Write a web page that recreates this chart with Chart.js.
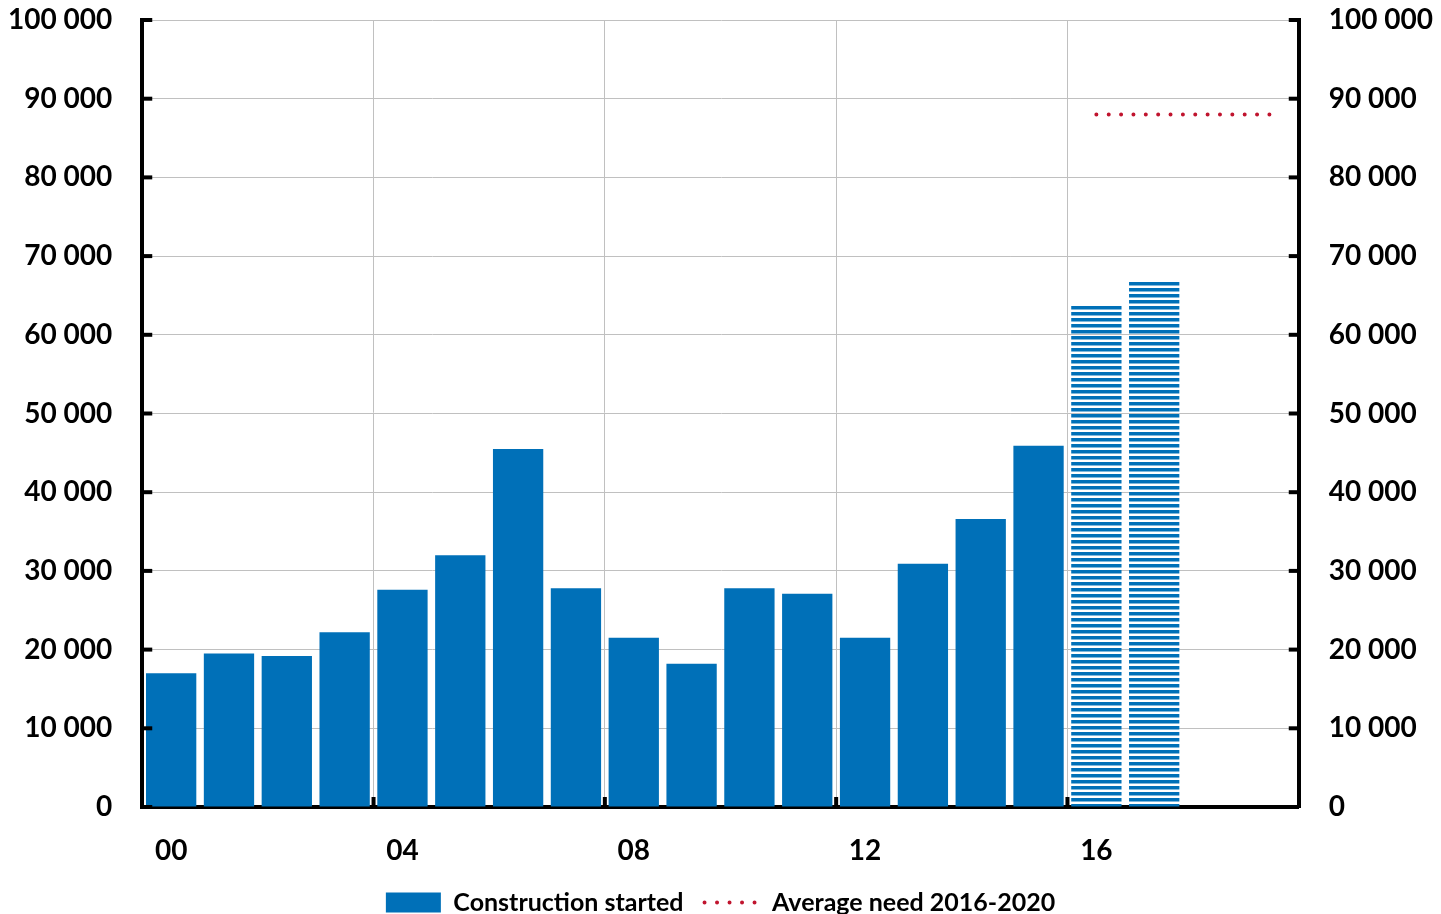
<!DOCTYPE html>
<html>
<head>
<meta charset="utf-8">
<script src="https://cdn.jsdelivr.net/npm/chart.js@4.4.1/dist/chart.umd.min.js"></script>
<style>
  body { margin: 0; background: #fff; }
  #wrap { width: 1441px; height: 914px; }
</style>
</head>
<body>
<div id="wrap"><canvas id="chart"></canvas></div>
<script>
// years 2000-2019, shown as two digits
var years = ['00', '01', '02', '03', '04', '05', '06', '07', '08', '09',
             '10', '11', '12', '13', '14', '15', '16', '17', '18', '19'];
var shownYears = ['00', '04', '08', '12', '16'];
var started = [17000, 19500, 19200, 22200, 27600, 32000, 45500, 27800, 21500, 18200,
               27800, 27100, 21500, 30900, 36600, 45900, 63900, 66900, null, null];
var need = [null, null, null, null, null, null, null, null, null, null,
            null, null, null, null, null, null, 88000, 88000, 88000, 88000];
var firstForecast = 16;

var blue = '#0070b8';
var red = '#c0142e';

Chart.defaults.font.family = 'Lato, Calibri, sans-serif';
Chart.defaults.font.weight = 'bold';
Chart.defaults.color = '#000';

function stripes() {
    var p = document.createElement('canvas');
    p.width = 6;
    p.height = 6;
    var g = p.getContext('2d');
    g.fillStyle = blue;
    g.fillRect(0, 0, 6, 3.5);
    return g.createPattern(p, 'repeat');
}
var striped = stripes();

function fmt(v) {
    return String(v).replace(/\B(?=(\d{3})+(?!\d))/g, ' ');
}

// short black ticks pointing into the plot
var tickMarks = {
    id: 'tickMarks',
    afterDraw: function (chart) {
        var c = chart.ctx, a = chart.chartArea;
        var y = chart.scales.y, x = chart.scales.x;
        c.save();
        c.strokeStyle = '#000';
        c.lineWidth = 4;
        y.ticks.forEach(function (t) {
            var py = y.getPixelForValue(t.value);
            c.beginPath(); c.moveTo(a.left, py); c.lineTo(a.left + 10, py); c.stroke();
            c.beginPath(); c.moveTo(a.right, py); c.lineTo(a.right - 10, py); c.stroke();
        });
        for (var i = 4; i < years.length; i += 4) {
            var px = (x.getPixelForValue(i - 1) + x.getPixelForValue(i)) / 2;
            c.beginPath(); c.moveTo(px, a.bottom); c.lineTo(px, a.bottom - 10); c.stroke();
        }
        c.restore();
    }
};

var ctx = document.getElementById('chart').getContext('2d');
var chart = new Chart(ctx, {
    type: 'bar',
    data: {
        labels: years,
        datasets: [{
            label: 'Construction started',
            data: started,
            backgroundColor: function (c) {
                return c.dataIndex >= firstForecast ? striped : blue;
            },
            barPercentage: 0.87,
            categoryPercentage: 1,
            order: 2
        }, {
            type: 'line',
            label: 'Average need 2016-2020',
            data: need,
            borderColor: red,
            borderWidth: 4,
            borderDash: [0, 12.36],
            borderCapStyle: 'round',
            pointRadius: 0,
            fill: false,
            order: 1
        }]
    },
    options: {
        responsive: true,
        maintainAspectRatio: false,
        animation: false,
        layout: { padding: { left: 8, right: 8, top: 20, bottom: -11 } },
        plugins: {
            tooltip: { enabled: false },
            legend: {
                position: 'bottom',
                labels: {
                    usePointStyle: true,
                    pointStyleWidth: 55,
                    boxHeight: 20,
                    padding: 21,
                    font: { size: 25, weight: 'bold' },
                    generateLabels: function () {
                        return [{
                            text: 'Construction started',
                            fillStyle: blue, strokeStyle: blue, lineWidth: 0,
                            pointStyle: 'rect', datasetIndex: 0
                        }, {
                            text: 'Average need 2016-2020',
                            fillStyle: red, strokeStyle: red, lineWidth: 4,
                            lineDash: [0, 12.5], lineCap: 'round',
                            pointStyle: 'line', datasetIndex: 1
                        }];
                    }
                }
            }
        },
        scales: {
            x: {
                grid: {
                    offset: true,
                    drawTicks: false,
                    color: function (c) {
                        return c.index > 0 && c.index % 4 === 0 ? '#c0c0c0' : 'transparent';
                    }
                },
                border: { color: '#000', width: 4 },
                ticks: {
                    autoSkip: false,
                    maxRotation: 0,
                    padding: 30,
                    font: { size: 28, lineHeight: 1 },
                    callback: function (v, i) {
                        return shownYears.indexOf(years[i]) >= 0 ? years[i] : '';
                    }
                },
                afterFit: function (s) { s.height -= 26; }
            },
            y: {
                min: 0, max: 100000,
                grid: { color: '#c0c0c0', tickLength: 30, tickColor: 'transparent' },
                border: { color: '#000', width: 4 },
                ticks: {
                    stepSize: 10000, padding: 0,
                    font: { size: 28 },
                    callback: function (v) { return fmt(v); }
                }
            },
            y2: {
                position: 'right',
                min: 0, max: 100000,
                grid: { drawOnChartArea: false, tickLength: 30, tickColor: 'transparent' },
                border: { color: '#000', width: 4 },
                ticks: {
                    stepSize: 10000, padding: 0,
                    font: { size: 28 },
                    callback: function (v) { return fmt(v); }
                }
            }
        }
    },
    plugins: [tickMarks]
});
</script>
</body>
</html>
